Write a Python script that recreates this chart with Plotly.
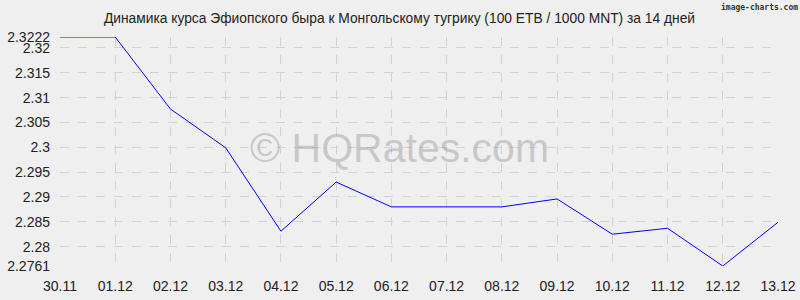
import plotly.graph_objects as go

dates = ["30.11", "01.12", "02.12", "03.12", "04.12", "05.12", "06.12",
         "07.12", "08.12", "09.12", "10.12", "11.12", "12.12", "13.12"]
rates = [2.3222, 2.3222, 2.3077, 2.2999, 2.2831, 2.2930, 2.2880,
         2.2880, 2.2880, 2.2896, 2.2825, 2.2837, 2.2761, 2.2849]
y_ticks = [2.2761, 2.28, 2.285, 2.29, 2.295, 2.3, 2.305, 2.31, 2.315, 2.32, 2.3222]
y_labels = ["2.2761", "2.28", "2.285", "2.29", "2.295", "2.3", "2.305", "2.31", "2.315", "2.32", "2.3222"]

xs = list(range(len(dates)))
bg = "#efefef"
font = "Liberation Sans, Arial, sans-serif"

fig = go.Figure()
fig.add_trace(go.Scatter(x=xs, y=rates, mode="lines",
                         line=dict(color="#0000ff", width=1)))

fig.update_layout(
    width=800, height=300,
    margin=dict(l=60, r=22, t=37, b=34),
    paper_bgcolor=bg, plot_bgcolor=bg,
    showlegend=False,
    font=dict(family=font, size=14, color="#222222"),
    title=dict(text="Динамика курса Эфиопского быра к Монгольскому тугрику (100 ETB / 1000 MNT) за 14 дней",
               xref="paper", x=0.4728, xanchor="center", y=0.94, yanchor="middle",
               font=dict(size=13.8, color="#222222")),
    xaxis=dict(range=[0, len(dates) - 1], tickvals=xs, ticktext=dates,
               showgrid=True, gridcolor="#d2d2d2", griddash="dash", gridwidth=1,
               zeroline=False, showline=False, ticks="", ticklabelstandoff=10,
               automargin=False,
               tickfont=dict(size=14, color="#222222")),
    yaxis=dict(range=[y_ticks[0], y_ticks[-1]], tickvals=y_ticks, ticktext=y_labels,
               showgrid=True, gridcolor="#d2d2d2", griddash="dash", gridwidth=1,
               zeroline=False, showline=False, ticks="", ticklabelstandoff=9,
               automargin=False,
               tickfont=dict(size=14, color="#222222")),
    annotations=[
        dict(text="© HQRates.com", xref="paper", yref="paper", x=0.4735, y=0.515,
             xanchor="center", yanchor="middle", showarrow=False,
             font=dict(size=41, color="rgba(150,150,150,0.45)", family=font)),
        dict(text="<b>image-charts.com</b>", xref="paper", yref="paper", x=1.0, y=1.0,
             xanchor="right", yanchor="middle", showarrow=False, yshift=30,
             xshift=22, font=dict(size=8, color="#333333", family="DejaVu Sans Mono, monospace")),
    ],
)

fig.write_html("out.html")
